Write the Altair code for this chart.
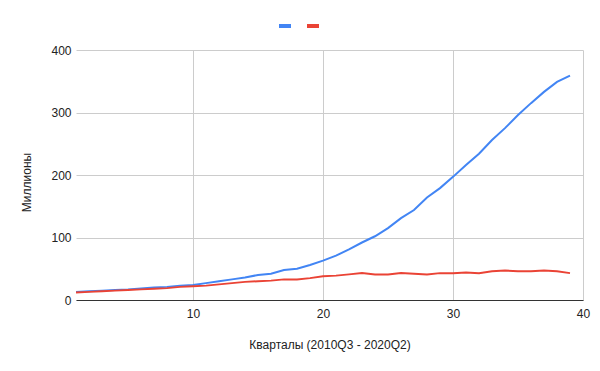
import altair as alt
import pandas as pd

quarters = list(range(1, 40))
blue_values = [13, 14, 15, 16, 17, 18.5, 20, 21, 23, 24,
               27, 30, 33, 36, 40, 42, 48, 50, 56, 63,
               71, 81, 92, 102, 115, 131, 144, 164, 179, 197,
               216, 234, 256, 275, 296, 315, 333, 349, 359]
red_values = [12, 13, 14, 15, 16, 17, 18, 19, 21, 22,
              23, 25, 27, 29, 30, 31, 33, 33, 35, 38,
              39, 41, 43, 41, 41, 43, 42, 41, 43, 43,
              44, 43, 46, 47, 46, 46, 47, 46, 43]
series_names = ["a", "b"]
series_colors = ["#4285F4", "#EA4335"]
x_ticks = [10, 20, 30, 40]
y_ticks = [0, 100, 200, 300, 400]

rows = []
for q, v in zip(quarters, blue_values):
    rows.append({"q": q, "v": v, "s": series_names[0]})
for q, v in zip(quarters, red_values):
    rows.append({"q": q, "v": v, "s": series_names[1]})
df = pd.DataFrame(rows)

FONT = "Liberation Sans"

chart = alt.Chart(df).mark_line(strokeWidth=2).encode(
    x=alt.X("q:Q",
            scale=alt.Scale(domain=[1, 40], nice=False, zero=False),
            axis=alt.Axis(values=x_ticks, title="Кварталы (2010Q3 - 2020Q2)",
                          grid=True, gridColor="#cccccc", ticks=False, tickSize=0,
                          domain=True, domainColor="#333333", domainWidth=1,
                          labelPadding=8, titlePadding=20, labelFlush=False)),
    y=alt.Y("v:Q",
            scale=alt.Scale(domain=[0, 400], nice=False),
            axis=alt.Axis(values=y_ticks, title="Миллионы",
                          grid=True, gridColor="#cccccc", ticks=False, tickSize=0,
                          domain=False, labelPadding=5, titlePadding=17,
                          titleY=132)),
    color=alt.Color("s:N",
                    scale=alt.Scale(domain=series_names, range=series_colors),
                    legend=alt.Legend(orient="none", legendX=201, legendY=-32,
                                      direction="horizontal", title=None,
                                      symbolType="stroke", symbolSize=144,
                                      symbolStrokeWidth=4, labelExpr="''",
                                      labelOffset=0, columnPadding=0, padding=0)),
    order="q:Q",
).properties(
    width=507, height=250,
    padding={"left": 68, "top": 42, "right": 9, "bottom": 63},
    autosize=alt.AutoSizeParams(type="none"),
).configure_view(stroke=None).configure_axis(
    labelFont=FONT, titleFont=FONT, labelFontSize=12, titleFontSize=12,
    labelColor="#222222", titleColor="#222222", titleFontWeight="normal",
).configure_legend(labelFont=FONT)

chart.save("out.html", embed_options={"renderer": "svg", "actions": False})
